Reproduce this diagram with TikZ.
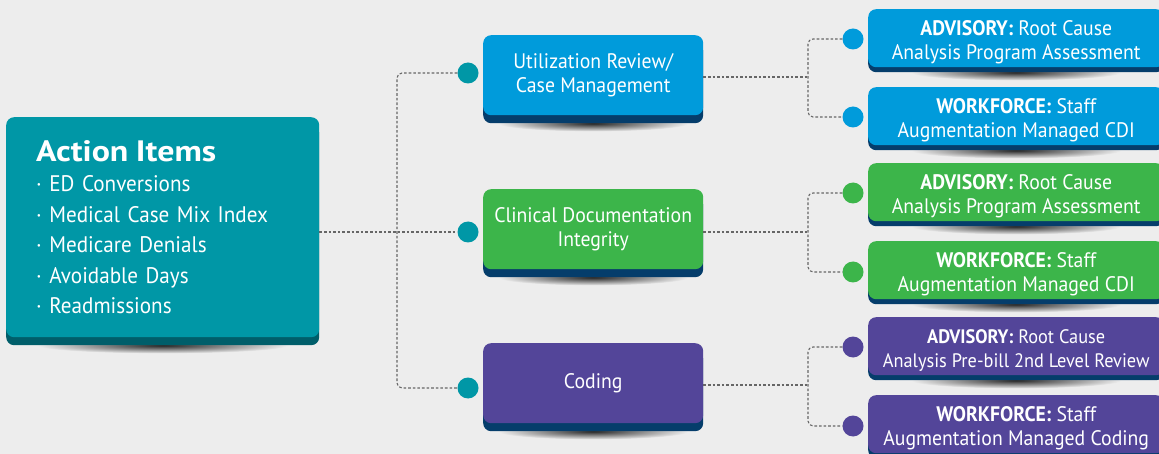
\documentclass[tikz,border=0pt]{standalone}
\usepackage{fontspec}
\setmainfont[FakeStretch=0.94]{PT Sans}
\newfontfamily\titlefont[FakeStretch=1.15]{PT Sans}
\usepackage{xcolor}
\usepackage{tikz}
\usetikzlibrary{positioning}
\usetikzlibrary{shadows}
\usetikzlibrary{backgrounds}
\usetikzlibrary{calc}
\definecolor{bgcol}{HTML}{EDEDED}
\definecolor{tealbox}{HTML}{0097A6}
\definecolor{tealedge}{HTML}{005E6A}
\definecolor{bluebox}{HTML}{009BDB}
\definecolor{greenbox}{HTML}{3CB54A}
\definecolor{purplebox}{HTML}{534599}
\definecolor{navyedge}{HTML}{053D6B}
\definecolor{linkgray}{HTML}{666666}
\newcommand{\lowtop}{\rule{0pt}{23pt}}
\tikzset{
    mybox/.style = {rectangle, rounded corners=8pt, align=center, text=white, inner sep=0pt, anchor=north west},
    itembox/.style = {mybox, fill=tealbox, align=left, minimum width=313pt, minimum height=220pt, text width=253pt, inner xsep=30pt, font=\fontsize{22.5}{30.5}\selectfont, drop shadow={shadow xshift=0pt, shadow yshift=-8pt, fill=tealedge, opacity=1}},
    midbox/.style = {mybox, minimum width=220pt, minimum height=80pt, font=\fontsize{21}{24}\selectfont, drop shadow={shadow xshift=0pt, shadow yshift=-8pt, fill=navyedge, opacity=1}},
    subbox/.style = {mybox, minimum width=296pt, minimum height=58pt, font=\fontsize{21}{23.7}\selectfont, drop shadow={shadow xshift=0pt, shadow yshift=-5pt, fill=navyedge, opacity=1}},
    mydot/.style = {circle, inner sep=0pt, minimum size=21pt},
    link/.style = {draw=linkgray, line width=1.1pt, dash pattern=on 2.6pt off 2pt, rounded corners=5pt},
    floor/.style = {inner color=black!85, outer color=bgcol},
}
\begin{document}
\begin{tikzpicture}[x=1pt, y=-1pt]
  \useasboundingbox (0,0) rectangle (1159,454);

  \node[itembox] (items) at (6,117) {{\titlefont\fontsize{29.5}{32}\selectfont\bfseries Action Items}\\
    · ED Conversions\\
    · Medical Case Mix Index\\
    · Medicare Denials\\
    · Avoidable Days\\
    · Readmissions};

  \node[midbox, fill=bluebox] (ur) at (483,35) {Utilization Review/\\Case Management};
  \node[midbox, fill=greenbox] (cdi) at (483,189) {Clinical Documentation\\Integrity};
  \node[midbox, fill=purplebox] (cod) at (483,343) {Coding};

  \node[subbox, fill=bluebox] (uradv) at (868,9) {\lowtop\textbf{ADVISORY:} Root Cause\\Analysis Program Assessment};
  \node[subbox, fill=bluebox] (urwf) at (868,87) {\lowtop\textbf{WORKFORCE:} Staff\\Augmentation Managed CDI};
  \node[subbox, fill=greenbox] (cdiadv) at (868,163) {\lowtop\textbf{ADVISORY:} Root Cause\\Analysis Program Assessment};
  \node[subbox, fill=greenbox] (cdiwf) at (868,241) {\lowtop\textbf{WORKFORCE:} Staff\\Augmentation Managed CDI};
  \node[subbox, fill=purplebox, font=\fontsize{19.5}{23.7}\selectfont] (codadv) at (868,317) {\lowtop\textbf{ADVISORY:} Root Cause\\Analysis Pre-bill 2nd Level Review};
  \node[subbox, fill=purplebox] (codwf) at (868,395) {\lowtop\textbf{WORKFORCE:} Staff\\Augmentation Managed Coding};

  \node[mydot, fill=tealbox] (urdot) at (468,73) {};
  \node[mydot, fill=tealbox] (cdidot) at (468,232) {};
  \node[mydot, fill=tealbox] (coddot) at (468,388) {};
  \node[mydot, fill=bluebox] (uradvdot) at (853,39) {};
  \node[mydot, fill=bluebox] (urwfdot) at (853,117) {};
  \node[mydot, fill=greenbox] (cdiadvdot) at (853,193) {};
  \node[mydot, fill=greenbox] (cdiwfdot) at (853,272) {};
  \node[mydot, fill=purplebox] (codadvdot) at (853,347) {};
  \node[mydot, fill=purplebox] (codwfdot) at (853,426) {};

  \coordinate (trunk) at (397,232);
  \coordinate (urfork) at (808,77);
  \coordinate (cdifork) at (808,232);
  \coordinate (codfork) at (808,385);

  \draw[link] (cdidot.west -| items.east) -- (cdidot.west);
  \draw[link] (urdot.west) -| (trunk) |- (coddot.west);
  \draw[link] (urfork -| ur.east) -- (urfork);
  \draw[link] (uradvdot.west) -| (urfork) |- (urwfdot.west);
  \draw[link] (cdifork -| cdi.east) -- (cdifork);
  \draw[link] (cdiadvdot.west) -| (cdifork) |- (cdiwfdot.west);
  \draw[link] (codfork -| cod.east) -- (codfork);
  \draw[link] (codadvdot.west) -| (codfork) |- (codwfdot.west);

  \begin{scope}[on background layer]
    \fill[bgcol] (0,0) rectangle (1159,454);
    \foreach \n/\w/\d in {items/125/8, ur/95/8, cdi/95/8, cod/95/8, uradv/105/5, urwf/105/5, cdiadv/105/5, cdiwf/105/5, codadv/105/5, codwf/105/5}
      \shade[floor] ($(\n.south)+(0,\d)$) ellipse [x radius=\w pt, y radius=8pt];
  \end{scope}
\end{tikzpicture}
\end{document}
